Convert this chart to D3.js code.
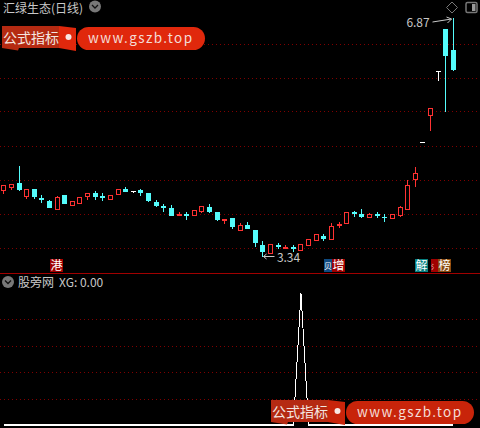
<!DOCTYPE html>
<html>
<head>
<meta charset="utf-8">
<title>汇绿生态</title>
<script src="https://cdn.jsdelivr.net/npm/d3@7"></script>
<style>
html, body { margin: 0; padding: 0; background: #000; overflow: hidden; }
svg { display: block; }
text { font-family: "Noto Sans CJK SC", "Noto Sans", sans-serif; }
</style>
</head>
<body>
<div id="chart"></div>
<script>
// daily candles
const opens = [4.33,4.37,4.43,4.24,4.34,4.21,4.17,4.05,4.26,4.11,4.14,4.24,4.29,4.24,4.20,4.27,4.34,4.31,4.33,4.29,
    4.15,4.09,4.06,3.95,3.98,3.96,4.02,4.08,4.00,3.87,3.92,3.74,3.81,3.74,3.52,3.40,3.52,3.46,3.49,3.44,
    3.52,3.59,3.65,3.61,3.80,3.84,4.00,3.98,3.93,3.98,3.93,3.92,3.96,4.05,4.49,5.04,5.44,6.09,6.71,6.40];
const highs = [4.40,4.42,4.68,4.34,4.34,4.26,4.18,4.24,4.26,4.17,4.23,4.29,4.31,4.29,4.26,4.34,4.37,4.31,4.34,4.29,
    4.18,4.12,4.11,4.00,4.00,4.03,4.09,4.12,4.00,3.90,3.92,3.84,3.86,3.74,3.58,3.53,3.55,3.52,3.52,3.53,
    3.61,3.68,3.68,3.84,3.86,4.00,4.02,4.05,3.99,4.00,3.98,3.98,4.09,4.48,4.67,5.04,5.54,6.09,6.71,6.87];
const lows = [4.27,4.33,4.31,4.20,4.20,4.14,4.06,4.05,4.12,4.11,4.14,4.18,4.18,4.17,4.18,4.26,4.30,4.29,4.24,4.15,
    4.08,4.00,3.95,3.95,3.89,3.96,3.99,3.99,3.87,3.83,3.75,3.72,3.75,3.49,3.34,3.40,3.46,3.46,3.41,3.44,
    3.52,3.59,3.58,3.61,3.77,3.84,3.93,3.92,3.92,3.92,3.86,3.92,3.93,4.05,4.37,5.04,5.20,5.94,5.48,6.09];
const closes = [4.40,4.42,4.33,4.34,4.23,4.18,4.06,4.23,4.12,4.17,4.23,4.29,4.23,4.21,4.26,4.34,4.30,4.31,4.29,4.17,
    4.09,4.06,3.95,3.98,3.95,4.03,4.09,4.00,3.89,3.90,3.78,3.81,3.75,3.55,3.41,3.53,3.49,3.49,3.46,3.53,
    3.61,3.68,3.61,3.80,3.83,4.00,3.98,3.93,3.98,3.95,3.92,3.98,4.08,4.40,4.58,5.04,5.54,6.09,6.31,6.10];
const xgValues = [0,0,0,0,0,0,0,0,0,0,0,0,0,0,0,0,0,0,0,0,
    0,0,0,0,0,0,0,0,0,0,0,0,0,0,0,0,0,0,0,1,
    0,0,0,0,0,0,0,0,0,0,0,0,0,0,0,0,0,0,0,0];

const priceTicks = [3.48, 3.98, 4.48, 4.98, 5.49, 5.99, 6.49];
const xgTicks = [0.2, 0.4, 0.6, 0.8];

// 贝 and 氵 are what is left visible of two tags covered by their neighbours
const tagLabels = ["港", "贝", "增", "解", "氵", "榜"];
const tagIndex = [7, 43, 44, 55, 57, 58];
const tagColors = ["#a00000", "#0f4a80", "#a00000", "#088080", "#a00000", "#8a4a10"];

const width = 480, height = 428;
const bg = "#000", red = "#ff3232", cyan = "#54fcfc", white = "#fff", grey = "#c8c8c8", gridRed = "#800000";

const svg = d3.select("#chart").append("svg")
    .attr("width", width)
    .attr("height", height)
    .style("background", bg);

const x = d3.scaleLinear().domain([0, 59]).range([3.8, 453.38]);
const y = d3.scaleLinear().domain([3.34, 6.87]).range([257, 18]);
const yXg = d3.scaleLinear().domain([0, 1]).range([425.4, 293]);

// snap to pixel columns/rows so candles stay sharp
const cx = i => Math.floor(x(i)) + 0.5;
const py = v => Math.round(y(v));

// grid lines
function grid(values, scale) {
    svg.append("g").selectAll("line")
        .data(values)
        .enter()
        .append("line")
        .attr("x1", 0)
        .attr("x2", 477)
        .attr("y1", d => Math.round(scale(d)) + 0.5)
        .attr("y2", d => Math.round(scale(d)) + 0.5)
        .attr("stroke", gridRed)
        .attr("stroke-dasharray", "1 3");
}
grid(priceTicks, y);
grid(xgTicks, yXg);

// panel divider
svg.append("line")
    .attr("x1", 0).attr("x2", width)
    .attr("y1", 273.5).attr("y2", 273.5)
    .attr("stroke", "#a00000");

// candles
const candles = svg.append("g").attr("shape-rendering", "crispEdges")
    .selectAll("g")
    .data(opens.map((o, i) => i))
    .enter()
    .append("g");

const candleColor = i => closes[i] === opens[i] ? white : closes[i] > opens[i] ? red : cyan;
const isHollow = i => closes[i] > opens[i] && py(opens[i]) - py(closes[i]) > 2;

candles.append("line")
    .attr("x1", cx).attr("x2", cx)
    .attr("y1", i => py(highs[i]))
    .attr("y2", i => py(lows[i]))
    .attr("stroke", candleColor);

candles.append("rect")
    .attr("x", i => isHollow(i) ? cx(i) - 2 : cx(i) - 2.5)
    .attr("y", i => Math.min(py(opens[i]), py(closes[i])) + (isHollow(i) ? 0.5 : 0))
    .attr("width", i => isHollow(i) ? 4 : 5)
    .attr("height", i => Math.max(1, Math.abs(py(opens[i]) - py(closes[i]))))
    .attr("fill", i => isHollow(i) ? bg : candleColor(i))
    .attr("stroke", i => isHollow(i) ? red : "none");

// high / low notes
const hiIdx = d3.maxIndex(highs), loIdx = d3.minIndex(lows);
svg.append("text")
    .attr("x", x(hiIdx) - 47).attr("y", y(highs[hiIdx]) + 9)
    .attr("font-size", 12).attr("fill", grey)
    .text(d3.max(highs).toFixed(2));
svg.append("path")
    .attr("d", `M${cx(hiIdx) - 21},${y(highs[hiIdx]) + 4}L${cx(hiIdx) - 2},${y(highs[hiIdx]) + 1}M${cx(hiIdx) - 7},${y(highs[hiIdx]) - 1}L${cx(hiIdx) - 2},${y(highs[hiIdx]) + 1}L${cx(hiIdx) - 6},${y(highs[hiIdx]) + 5}`)
    .attr("fill", "none").attr("stroke", grey);
svg.append("text")
    .attr("x", x(loIdx) + 14).attr("y", y(lows[loIdx]) + 5)
    .attr("font-size", 12).attr("fill", grey)
    .text(d3.min(lows).toFixed(2));
svg.append("path")
    .attr("d", `M${cx(loIdx) + 12},${y(lows[loIdx]) - 0.5}H${cx(loIdx) + 1}M${cx(loIdx) + 4},${y(lows[loIdx]) - 3}L${cx(loIdx) + 1},${y(lows[loIdx]) - 0.5}L${cx(loIdx) + 4},${y(lows[loIdx]) + 2}`)
    .attr("fill", "none").attr("stroke", grey);

// event tags above the divider, a tag is cut short by the next one when they touch
const tagLeft = i => Math.floor(x(tagIndex[i])) - 7;
const tagWidth = i => i < tagLabels.length - 1 ? Math.min(13, tagLeft(i + 1) - tagLeft(i)) : 13;
const tags = svg.append("g").selectAll("g")
    .data(tagLabels)
    .enter()
    .append("g")
    .attr("transform", (d, i) => `translate(${tagLeft(i)},259)`);
tags.append("rect")
    .attr("width", (d, i) => tagWidth(i)).attr("height", 13)
    .attr("fill", (d, i) => tagColors[i]);
tags.append("text")
    .attr("x", (d, i) => tagWidth(i) / 2).attr("y", (d, i) => tagWidth(i) < 13 ? 10 : 10.5)
    .attr("text-anchor", "middle")
    .attr("font-size", (d, i) => tagWidth(i) < 13 ? tagWidth(i) : 12)
    .attr("fill", white)
    .text(d => d);

// XG line: flat part thick, spike thin
svg.append("path")
    .datum(xgValues)
    .attr("d", d3.line().defined(d => d === 0).x((d, i) => x(i)).y(d => yXg(d)))
    .attr("fill", "none")
    .attr("stroke", white)
    .attr("stroke-width", 2)
    .attr("shape-rendering", "crispEdges");
svg.append("path")
    .datum(xgValues)
    .attr("d", d3.line().x((d, i) => x(i)).y(d => yXg(d)))
    .attr("fill", "none")
    .attr("stroke", white)
    .attr("stroke-width", 1)
    .attr("shape-rendering", "crispEdges");

// titles and icons
svg.append("text").attr("x", 3).attr("y", 13).attr("font-size", 12).attr("fill", grey).text("汇绿生态(日线)");
svg.append("text").attr("x", 18).attr("y", 287).attr("font-size", 12).attr("fill", grey).text("股旁网");
svg.append("text").attr("x", 59).attr("y", 287).attr("font-size", 12).attr("fill", grey).text("XG: 0.00");

function chevron(cxv, cyv) {
    svg.append("circle").attr("cx", cxv).attr("cy", cyv).attr("r", 6).attr("fill", "#787878");
    svg.append("path")
        .attr("d", `M${cxv - 3},${cyv - 1.5}L${cxv},${cyv + 1.5}L${cxv + 3},${cyv - 1.5}`)
        .attr("fill", "none").attr("stroke", "#111").attr("stroke-width", 1.3);
}
chevron(95, 6.5);
chevron(8, 282);

svg.append("path").attr("d", "M452,2L457.5,7.5L452,13L446.5,7.5Z").attr("fill", "none").attr("stroke", "#777");
svg.append("rect").attr("x", 466).attr("y", 2.5).attr("width", 11).attr("height", 10).attr("rx", 1.5)
    .attr("fill", "none").attr("stroke", "#777").attr("stroke-width", 1.5);
svg.append("rect").attr("x", 472).attr("y", 4).attr("width", 3.5).attr("height", 7).attr("fill", "#999");

// site watermark, drawn twice
function stamp(dx, dy, pillColor) {
    const g = svg.append("g").attr("transform", `translate(${dx},${dy})`);
    g.append("path").attr("d", "M2,26H59V48H19L18,50.5L2,48Z").attr("fill", "#b52a12");
    g.append("path").attr("d", "M59,26L76,28V51L59,48Z").attr("fill", pillColor);
    g.append("rect").attr("x", 77).attr("y", 27).attr("width", 128).attr("height", 23).attr("rx", 11.5).attr("fill", pillColor);
    g.append("text").attr("x", 3).attr("y", 43).attr("font-size", 14).attr("fill", "#f4e6e0").text("公式指标");
    g.append("circle").attr("cx", 68.5).attr("cy", 37).attr("r", 3).attr("fill", "#f8e8e4");
    g.append("text").attr("x", 88).attr("y", 43).attr("font-size", 13.5).attr("letter-spacing", 1.4)
        .attr("font-family", "'DejaVu Sans'").attr("fill", "#f4dcd6").text("www.gszb.top");
}
stamp(0, 0, "#e0280c");
stamp(269, 374, "#c8240a");
</script>
</body>
</html>
